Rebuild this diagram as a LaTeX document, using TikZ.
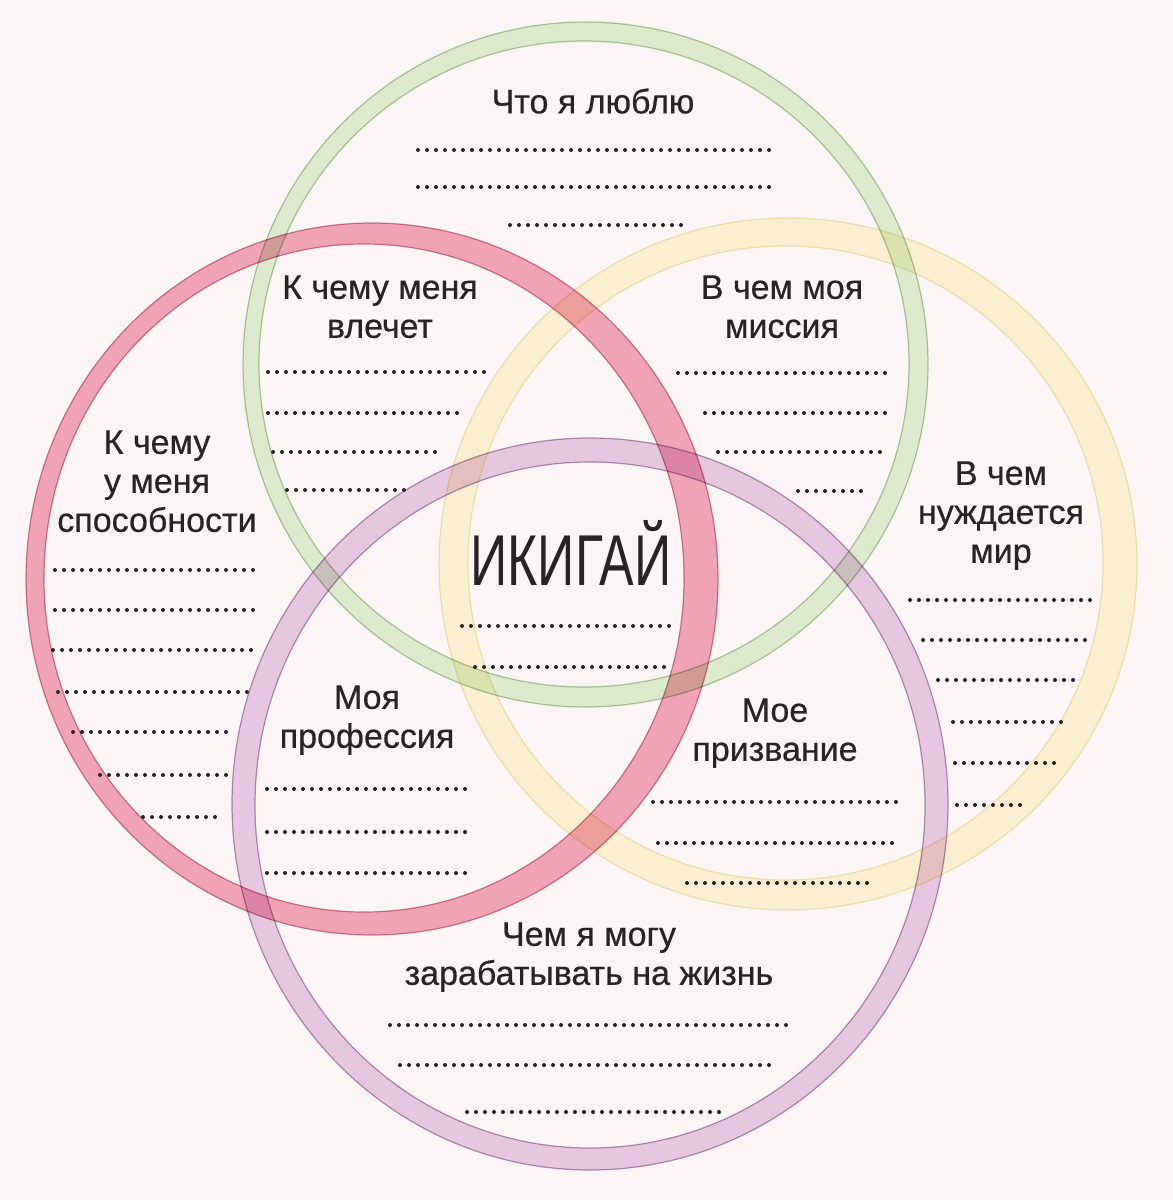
\documentclass[tikz,border=0pt]{standalone}
\usepackage{fontspec}
\setmainfont{Liberation Sans}
\newfontfamily\labelfont{Liberation Sans}[FakeBold=0.5]
\definecolor{paper}{HTML}{FBF6F5}
\definecolor{ink}{HTML}{2A2326}
\definecolor{redring}{HTML}{F3A9BD}
\definecolor{rededge}{HTML}{D08A9E}
\definecolor{greenring}{HTML}{E0F3D7}
\definecolor{greenedge}{HTML}{B4CBA6}
\definecolor{yellowring}{HTML}{FDF7D9}
\definecolor{yellowedge}{HTML}{F3E9C2}
\definecolor{purplering}{HTML}{EACFEA}
\definecolor{purpleedge}{HTML}{B797B8}

\begin{document}
\begin{tikzpicture}[x=0.5pt,y=-0.5pt,
    lbl/.style={font=\labelfont\fontsize{17}{19.5}\selectfont, text=ink, align=center, inner sep=0pt, anchor=north},
    dotline/.style={ink, line width=2pt, line cap=round, dash pattern=on 0pt off 4.5pt},
    band/.style={even odd rule, blend mode=multiply},
    rim/.style={line width=0.6pt, blend mode=multiply}]
    \fill[paper] (0,0) rectangle (1173,1200);
    \useasboundingbox (0,0) rectangle (1173,1200);

    % rings
    \fill[band, greenring] (585.5,364.5) ellipse [x radius=342.5, y radius=342.5] (584,364) ellipse [x radius=325, y radius=323];
    \draw[rim, greenedge] (585.5,364.5) ellipse [x radius=342.5, y radius=342.5] (584,364) ellipse [x radius=325, y radius=323];
    \fill[band, redring] (372,579) ellipse [x radius=346, y radius=356] (364,578) ellipse [x radius=320, y radius=334];
    \draw[rim, rededge] (372,579) ellipse [x radius=346, y radius=356] (364,578) ellipse [x radius=320, y radius=334];
    \fill[band, yellowring] (788,564) ellipse [x radius=349, y radius=346] (785.5,563) ellipse [x radius=317.5, y radius=317];
    \draw[rim, yellowedge] (788,564) ellipse [x radius=349, y radius=346] (785.5,563) ellipse [x radius=317.5, y radius=317];
    \fill[band, purplering] (590,804) ellipse [x radius=358, y radius=366] (590,805) ellipse [x radius=335, y radius=343];
    \draw[rim, purpleedge] (590,804) ellipse [x radius=358, y radius=366] (590,805) ellipse [x radius=335, y radius=343];

    % labels
    \node[lbl] (love) at (593,88) {Что я люблю};
    \node[lbl] (passion) at (380,275) {К чему меня\\влечет};
    \node[lbl] (mission) at (782,275) {В чем моя\\миссия};
    \node[lbl] (skill) at (157,430) {К чему\\у меня\\способности};
    \node[lbl] (need) at (1001,461) {В чем\\нуждается\\мир};
    \node[font=\fontsize{36}{40}\selectfont, text=ink, inner sep=0pt, anchor=base] (ikigai) at (571,585) {\scalebox{0.72}[1]{ИКИГАЙ}};
    \node[lbl] (profession) at (367,685) {Моя\\профессия};
    \node[lbl] (vocation) at (775,698) {Мое\\призвание};
    \node[lbl] (paid) at (589,922) {Чем я могу\\зарабатывать на жизнь};

    % lines to fill in
    \draw[dotline] (418,150) -- (772,150) (418,187) -- (772,187) (510,225) -- (683,225);
    \draw[dotline] (268,372) -- (485,372) (268,413) -- (463,413) (273,452) -- (440,452) (287,490) -- (407,490);
    \draw[dotline] (678,373) -- (890,373) (705,413) -- (888,413) (718,452) -- (887,452) (798,491) -- (868,491);
    \draw[dotline] (55,570) -- (258,570) (55,610) -- (258,610) (53,650) -- (255,650) (58,692) -- (248,692)
        (73,732) -- (230,732) (100,775) -- (228,775) (143,817) -- (223,817);
    \draw[dotline] (910,600) -- (1095,600) (923,640) -- (1090,640) (938,680) -- (1077,680) (953,722) -- (1063,722)
        (955,763) -- (1055,763) (957,805) -- (1028,805);
    \draw[dotline] (462,626) -- (678,626) (475,667) -- (665,667);
    \draw[dotline] (267,789) -- (468,789) (267,832) -- (468,832) (267,873) -- (468,873);
    \draw[dotline] (653,802) -- (898,802) (658,843) -- (897,843) (687,883) -- (873,883);
    \draw[dotline] (390,1025) -- (793,1025) (400,1065) -- (777,1065) (467,1112) -- (720,1112);
\end{tikzpicture}
\end{document}
